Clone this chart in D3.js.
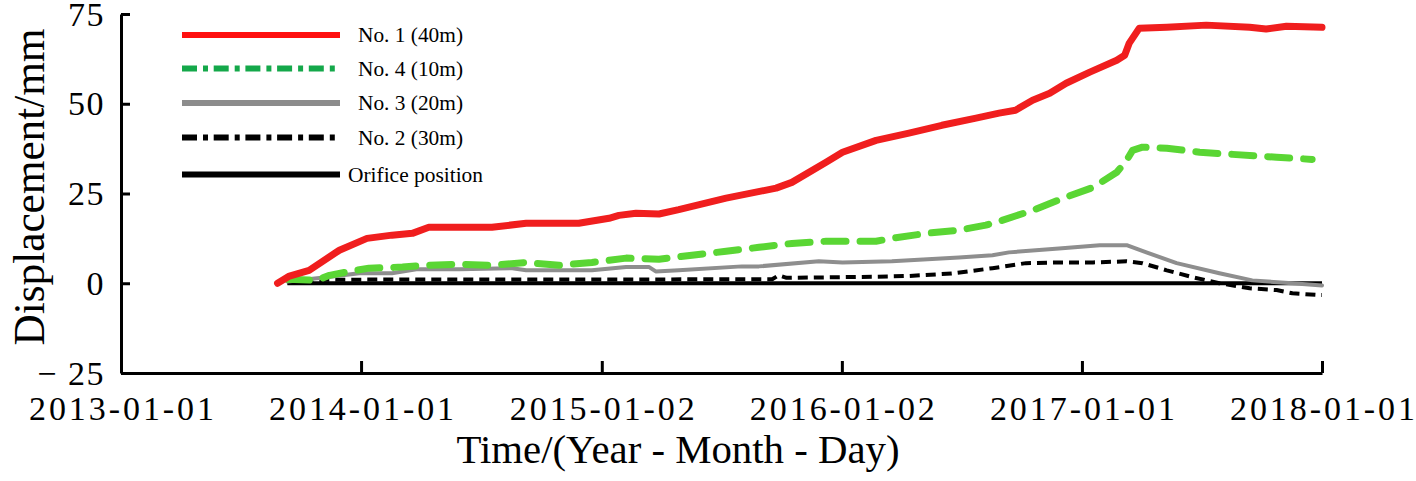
<!DOCTYPE html>
<html>
<head>
<meta charset="utf-8">
<script src="https://cdn.jsdelivr.net/npm/d3@7"></script>
<style>
  html, body { margin: 0; padding: 0; background: #fff; }
  svg { display: block; }
  text { font-family: "Liberation Serif", "DejaVu Serif", serif; fill: #000; }
</style>
</head>
<body>
<svg id="chart" width="1416" height="481"></svg>
<script>
// ---------- data ----------
const xTickDates  = ["2013-01-01","2014-01-01","2015-01-02","2016-01-02","2017-01-01","2018-01-01"];
const xTickLabels = ["2013-01-01","2014-01-01","2015-01-02","2016-01-02","2017-01-01","2018-01-01"];
const yTicks = [-25, 0, 25, 50, 75];

const no1_40m = [
  ["2013-08-27",0],["2013-09-14",2.0],["2013-10-14",3.6],["2013-11-29",9.2],["2014-01-10",12.5],
  ["2014-02-17",13.4],["2014-03-20",13.9],["2014-04-14",15.6],["2014-07-19",15.6],["2014-09-09",16.7],
  ["2014-11-28",16.7],["2015-01-13",18.1],["2015-01-28",18.9],["2015-02-23",19.5],["2015-03-30",19.3],
  ["2015-04-29",20.5],["2015-07-10",23.7],["2015-09-24",26.5],["2015-10-18",28.1],["2015-12-09",33.7],
  ["2016-01-03",36.5],["2016-02-23",39.8],["2016-04-13",41.8],["2016-06-02",44.0],["2016-07-24",46.0],
  ["2016-08-28",47.4],["2016-09-22",48.2],["2016-10-18",51.0],["2016-11-13",52.9],["2016-12-08",55.7],
  ["2017-01-13",58.8],["2017-02-23",62.1],["2017-03-07",63.5],["2017-03-14",66.9],["2017-03-29",71.0],
  ["2017-05-10",71.3],["2017-07-09",71.9],["2017-09-13",71.3],["2017-10-08",70.8],["2017-11-08",71.6],
  ["2018-01-01",71.3]
];
const no4_10m = [
  ["2013-09-11",1.1],["2013-10-25",0.8],["2013-11-14",2.2],["2013-12-09",3.1],["2014-01-13",4.2],
  ["2014-03-05",4.5],["2014-04-10",5.0],["2014-05-30",5.3],["2014-07-19",5.0],["2014-09-09",5.8],
  ["2014-10-29",5.0],["2014-12-18",5.8],["2015-02-08",7.0],["2015-03-30",6.7],["2015-05-19",7.8],
  ["2015-07-10",8.9],["2015-08-29",10.0],["2015-10-18",11.1],["2015-12-09",11.7],["2016-02-23",11.7],
  ["2016-03-18",12.5],["2016-05-09",13.9],["2016-06-28",14.8],["2016-08-08",16.2],["2016-09-01",17.5],
  ["2016-10-18",20.3],["2016-12-08",24.0],["2017-01-18",26.7],["2017-02-23",30.9],["2017-03-10",34.3],
  ["2017-03-19",37.0],["2017-04-03",37.9],["2017-05-10",37.6],["2017-06-29",36.5],["2017-08-18",35.9],
  ["2017-10-24",35.1],["2017-12-17",34.5]
];
const no3_20m = [
  ["2013-09-11",0.5],["2013-11-09",1.7],["2013-12-29",2.8],["2014-02-17",2.8],["2014-03-26",3.9],
  ["2014-05-30",3.9],["2014-08-19",4.2],["2014-09-09",3.6],["2014-12-18",3.6],["2015-02-08",4.5],
  ["2015-03-15",4.5],["2015-03-25",3.3],["2015-04-29",3.6],["2015-08-03",4.7],["2015-08-29",4.7],
  ["2015-11-28",6.1],["2016-01-03",5.8],["2016-03-18",6.1],["2016-06-28",7.2],["2016-08-18",7.8],
  ["2016-09-12",8.6],["2016-11-27",9.7],["2017-01-28",10.6],["2017-03-10",10.6],["2017-04-09",8.6],
  ["2017-05-25",5.6],["2017-07-29",2.8],["2017-09-17",0.8],["2017-11-17",0],["2018-01-01",-0.6]
];
const no2_30m = [
  ["2013-09-11",0.2],["2013-11-03",1.0],["2015-09-18",1.1],["2015-09-28",2.2],["2015-10-10",1.5],
  ["2016-02-17",1.8],["2016-04-09",2.0],["2016-06-17",2.7],["2016-08-18",4.2],["2016-10-08",5.6],
  ["2016-11-27",5.8],["2017-01-18",5.8],["2017-03-10",6.1],["2017-04-03",5.6],["2017-05-10",3.6],
  ["2017-06-18",1.7],["2017-07-29",0],["2017-09-13",-1.4],["2017-10-24",-1.9],["2017-11-17",-2.8],
  ["2017-12-28",-3.3],["2018-01-01",-3.3]
];
const orifice = [["2013-09-11",0],["2018-01-01",0]];

const legendLabels = ["No. 1 (40m)","No. 4 (10m)","No. 3 (20m)","No. 2 (30m)","Orifice position"];

// ---------- drawing ----------
const parse = d3.utcParse("%Y-%m-%d");
const svg = d3.select("#chart");
const X0 = 121, X1 = 1322, Y0 = 373, Y1 = 14;

const x = d3.scaleUtc().domain([parse("2013-01-01"), parse("2018-01-01")]).range([X0, X1]);
const y = d3.scaleLinear().domain([-25, 75]).range([Y0, Y1]);

const line = d3.line().x(d => x(parse(d[0]))).y(d => y(d[1]));

// axes
const xAxis = d3.axisBottom(x)
  .tickValues(xTickDates.map(parse))
  .tickFormat((d, i) => xTickLabels[i])
  .tickSizeInner(-12).tickSizeOuter(0).tickPadding(23);
const gx = svg.append("g").attr("transform", `translate(0,${Y0})`).call(xAxis);
gx.select(".domain").attr("stroke", "#000").attr("stroke-width", 3);
gx.selectAll(".tick line").attr("stroke", "#000").attr("stroke-width", 3);
gx.selectAll(".tick").filter((d, i) => i === 0).select("line").remove();
gx.selectAll(".tick text")
  .attr("font-family", "Liberation Serif")
  .attr("font-size", 34)
  .attr("textLength", 185).attr("lengthAdjust", "spacing")
  .attr("fill", "#000");

const yAxis = d3.axisLeft(y)
  .tickValues(yTicks)
  .tickFormat(d => d < 0 ? "\u2212 " + Math.abs(d) : String(d))
  .tickSizeInner(-9).tickSizeOuter(0).tickPadding(16);
const gy = svg.append("g").attr("transform", `translate(${X0},0)`).call(yAxis);
gy.select(".domain").attr("stroke", "#000").attr("stroke-width", 3);
gy.selectAll(".tick line").attr("stroke", "#000").attr("stroke-width", 3);
gy.selectAll(".tick text")
  .attr("font-family", "Liberation Serif")
  .attr("font-size", 34)
  .attr("letter-spacing", 1.5)
  .attr("dy", "0.33em")
  .attr("fill", "#000");

// axis titles
svg.append("text")
  .attr("x", 678).attr("y", 463)
  .attr("text-anchor", "middle")
  .attr("font-size", 41)
  .attr("textLength", 443).attr("lengthAdjust", "spacingAndGlyphs")
  .text("Time/(Year - Month - Day)");

svg.append("text")
  .attr("transform", "translate(44,187) rotate(-90)")
  .attr("text-anchor", "middle")
  .attr("font-size", 44)
  .attr("textLength", 317).attr("lengthAdjust", "spacingAndGlyphs")
  .text("Displacement/mm");

// series
const series = [
  { data: orifice, stroke: "#000000", width: 4, dash: null, cap: "butt" },
  { data: no2_30m, stroke: "#000000", width: 4, dash: "10,6", cap: "butt" },
  { data: no3_20m, stroke: "#8e8e8e", width: 4, dash: null, cap: "round" },
  { data: no4_10m, stroke: "#5ad634", width: 7, dash: "22,14", cap: "round" },
  { data: no1_40m, stroke: "#f01e1e", width: 7, dash: null, cap: "round" }
];
svg.append("g").selectAll("path").data(series).join("path")
  .attr("d", s => line(s.data))
  .attr("fill", "none")
  .attr("stroke", s => s.stroke)
  .attr("stroke-width", s => s.width)
  .attr("stroke-dasharray", s => s.dash)
  .attr("stroke-linecap", s => s.cap)
  .attr("stroke-linejoin", "round");

// legend
const legendStyles = [
  { stroke: "#ff1010", dash: null },
  { stroke: "#14a84a", dash: "15,6,5,5.7" },
  { stroke: "#8c8c8c", dash: null },
  { stroke: "#000000", dash: "15,6,5,5.7" },
  { stroke: "#000000", dash: null }
];
const legendY = [35, 68.5, 103, 137.5, 174.5];
const lg = svg.append("g");
legendLabels.forEach((lab, i) => {
  lg.append("line")
    .attr("x1", 182).attr("x2", 340)
    .attr("y1", legendY[i]).attr("y2", legendY[i])
    .attr("stroke", legendStyles[i].stroke)
    .attr("stroke-width", 6)
    .attr("stroke-dasharray", legendStyles[i].dash);
  const last = i === legendLabels.length - 1;
  lg.append("text")
    .attr("x", last ? 348 : 358)
    .attr("y", legendY[i] + 7)
    .attr("font-size", 22)
    .attr("textLength", last ? 135 : 105).attr("lengthAdjust", "spacingAndGlyphs")
    .text(lab);
});
</script>
</body>
</html>
